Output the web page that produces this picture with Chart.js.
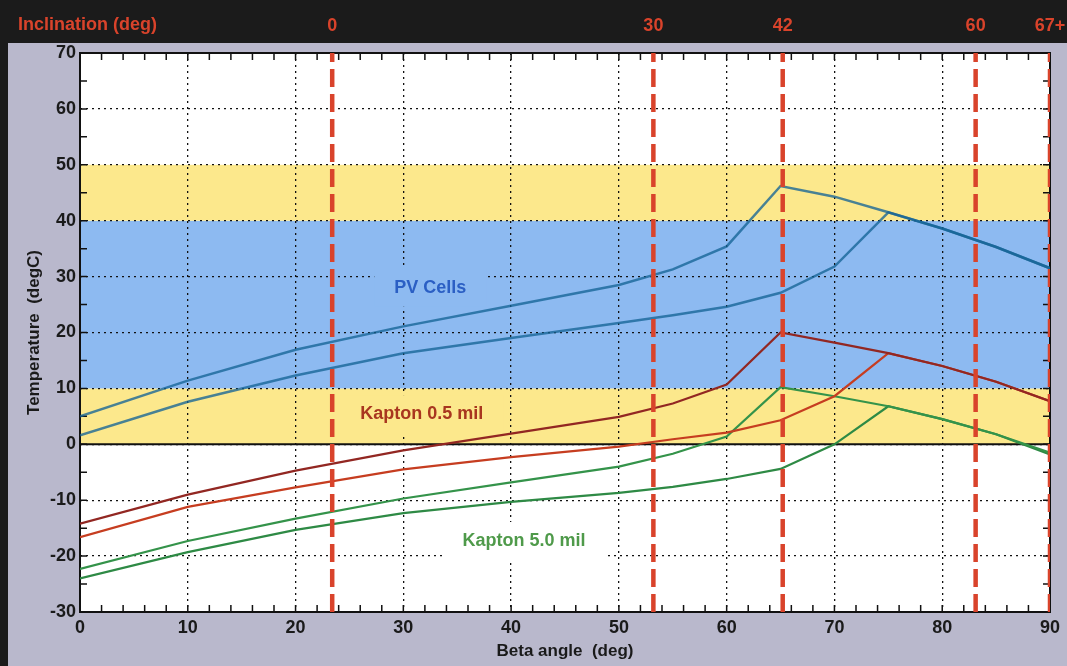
<!DOCTYPE html>
<html>
<head>
<meta charset="utf-8">
<script src="https://cdn.jsdelivr.net/npm/chart.js@4.4.0/dist/chart.umd.min.js"></script>
<style>
    html, body { margin: 0; padding: 0; background: #b9b8cc; }
    #wrap { width: 1067px; height: 666px; }
</style>
</head>
<body>
<div id="wrap"><canvas id="tempChart" width="1067" height="666"></canvas></div>
<script>
// Beta angle samples (deg) and temperatures (degC)
const betaAngles = [0, 10, 20, 30, 40, 50, 55, 60, 65, 70, 75, 80, 85, 90];
const pvHigh     = [5.0, 11.4, 16.9, 21.1, 24.8, 28.5, 31.3, 35.4, 46.2, 44.3, 41.5, 38.6, 35.3, 31.5];
const pvLow      = [1.6, 7.6, 12.3, 16.3, 19.0, 21.7, 23.1, 24.6, 27.1, 31.8, 41.5, 38.6, 35.3, 31.5];
const k05High    = [-14.2, -9.0, -4.7, -1.1, 1.9, 4.9, 7.3, 10.7, 20.0, 18.2, 16.3, 14.0, 11.2, 7.7];
const k05Low     = [-16.6, -11.2, -7.7, -4.5, -2.3, -0.4, 0.9, 2.1, 4.3, 8.6, 16.3, 14.0, 11.2, 7.7];
const k50High    = [-22.3, -17.3, -13.3, -9.7, -6.8, -4.0, -1.7, 1.4, 10.2, 8.6, 6.8, 4.5, 1.8, -1.5];
const k50Low     = [-24.0, -19.3, -15.3, -12.3, -10.3, -8.7, -7.6, -6.2, -4.4, 0.0, 6.8, 4.5, 1.8, -1.8];

// Orbit inclination markers (top axis) and the beta angle they sit at
const incLabels  = ['0', '30', '42', '60', '67+'];
const betaMarks  = [23.4, 53.2, 65.2, 83.1, 90];

// Temperature limit bands (degC)
const bandLow    = [0, 10, 40];
const bandHigh   = [10, 40, 50];
const bandColors = ['#fce88c', '#8dbaf1', '#fce88c'];

// Text labels placed in data coordinates
const noteText   = ['PV Cells', 'Kapton 0.5 mil', 'Kapton 5.0 mil'];
const noteBeta   = [32.5, 31.7, 41.2];
const noteTemp   = [28.0, 5.4, -17.3];

const FONT = '"Liberation Sans", Arial, sans-serif';
const toPoints = ys => ys.map((y, i) => ({ x: betaAngles[i], y }));

const curve = (data, color, width) => ({
    data: toPoints(data),
    borderColor: color,
    borderWidth: width,
    pointRadius: 0,
    tension: 0,
    order: 2
});

const markLines = betaMarks.map(b => ({
    data: [{ x: b, y: -30 }, { x: b, y: 70 }],
    borderColor: '#d9432b',
    borderWidth: 4.5,
    borderDash: [18, 7],
    pointRadius: 0,
    order: 0
}));

const backdrop = {
    id: 'backdrop',
    beforeDraw(chart) {
        const { ctx, width, height, chartArea: a } = chart;
        const y = chart.scales.y;
        ctx.save();
        ctx.fillStyle = '#b9b8cc';
        ctx.fillRect(0, 0, width, height);
        ctx.fillStyle = '#1b1b1b';
        ctx.fillRect(0, 0, width, 43);
        ctx.fillRect(0, 43, 8, height - 43);
        ctx.fillStyle = '#d9432b';
        ctx.font = 'bold 18px ' + FONT;
        ctx.textBaseline = 'middle';
        ctx.fillText('Inclination (deg)', 18, 25);

        ctx.fillStyle = '#ffffff';
        ctx.fillRect(a.left, a.top, a.right - a.left, a.bottom - a.top);
        bandLow.forEach((lo, i) => {
            const top = y.getPixelForValue(bandHigh[i]);
            const bot = y.getPixelForValue(lo);
            ctx.fillStyle = bandColors[i];
            ctx.fillRect(a.left, top, a.right - a.left, bot - top);
        });
        ctx.restore();
    },
    beforeDatasetsDraw(chart) {
        const { ctx, chartArea: a } = chart;
        const x = chart.scales.x, y = chart.scales.y;
        ctx.save();

        // labels sit on a patch of their own background, hiding the grid
        const patch = ['#8dbaf1', '#fce88c', '#ffffff'];
        ctx.font = 'bold 18px ' + FONT;
        ctx.textAlign = 'center';
        ctx.textBaseline = 'middle';
        noteText.forEach((t, i) => {
            const px = x.getPixelForValue(noteBeta[i]);
            const py = y.getPixelForValue(noteTemp[i]);
            const w = ctx.measureText(t).width + 40;
            ctx.fillStyle = patch[i];
            ctx.fillRect(px - w / 2, py - 19, w, 38);
        });
        const inkColors = ['#2b5fc4', '#a8361f', '#4f9a4a'];
        noteText.forEach((t, i) => {
            ctx.fillStyle = inkColors[i];
            ctx.fillText(t, x.getPixelForValue(noteBeta[i]), y.getPixelForValue(noteTemp[i]));
        });

        // zero line
        ctx.strokeStyle = '#111';
        ctx.lineWidth = 2;
        ctx.beginPath();
        ctx.moveTo(a.left, y.getPixelForValue(0));
        ctx.lineTo(a.right, y.getPixelForValue(0));
        ctx.stroke();

        // inner ticks on all four sides
        ctx.lineWidth = 1.5;
        ctx.beginPath();
        for (let b = 0; b <= 90; b += 2) {
            const px = x.getPixelForValue(b);
            ctx.moveTo(px, a.bottom); ctx.lineTo(px, a.bottom - 7);
            ctx.moveTo(px, a.top); ctx.lineTo(px, a.top + 7);
        }
        for (let t = -30; t <= 70; t += 5) {
            const py = y.getPixelForValue(t);
            ctx.moveTo(a.left, py); ctx.lineTo(a.left + 7, py);
            ctx.moveTo(a.right, py); ctx.lineTo(a.right - 7, py);
        }
        ctx.stroke();

        ctx.lineWidth = 2;
        ctx.strokeRect(a.left, a.top, a.right - a.left, a.bottom - a.top);
        ctx.restore();
    }
};

const tickFont = { family: FONT, size: 18, weight: 'bold' };

new Chart(document.getElementById('tempChart'), {
    type: 'line',
    data: {
        datasets: [
            curve(pvHigh, 'rgba(20,100,150,0.78)', 2.5),
            curve(pvLow, 'rgba(20,100,150,0.78)', 2.5),
            curve(k05High, '#922722', 2.2),
            curve(k05Low, '#c63d20', 2.2),
            curve(k50High, '#34934a', 2.2),
            curve(k50Low, '#2e8a45', 2.2),
            ...markLines
        ]
    },
    options: {
        responsive: false,
        animation: false,
        layout: { padding: { right: 17 } },
        plugins: {
            legend: { display: false },
            tooltip: { enabled: false }
        },
        scales: {
            x: {
                type: 'linear',
                min: 0,
                max: 90,
                afterFit: s => { s.height = 54; s.paddingRight = 0; },
                ticks: { stepSize: 10, padding: 5, color: '#1a1a1a', font: tickFont },
                grid: { color: '#111', lineWidth: 1.3, drawTicks: false },
                border: { display: false, dash: [2, 4] },
                title: {
                    display: true,
                    text: 'Beta angle  (deg)',
                    color: '#1a1a1a',
                    font: { family: FONT, size: 17, weight: 'bold' },
                    padding: { top: 0, bottom: 4 }
                }
            },
            xTop: {
                type: 'linear',
                position: 'top',
                min: 0,
                max: 90,
                afterFit: s => { s.height = 53; s.paddingRight = 0; },
                afterBuildTicks: s => { s.ticks = betaMarks.map(v => ({ value: v })); },
                ticks: {
                    autoSkip: false,
                    maxRotation: 0,
                    padding: 8,
                    color: '#d9432b',
                    font: { family: FONT, size: 18, weight: 'bold' },
                    callback: (v, i) => incLabels[i]
                },
                grid: { display: false },
                border: { display: false }
            },
            y: {
                min: -30,
                max: 70,
                afterFit: s => { s.width = 80; },
                ticks: { stepSize: 10, padding: 4, color: '#1a1a1a', font: tickFont },
                grid: { color: '#111', lineWidth: 1.3, drawTicks: false },
                border: { display: false, dash: [2, 4] },
                title: {
                    display: true,
                    text: 'Temperature  (degC)',
                    color: '#1a1a1a',
                    font: { family: FONT, size: 17, weight: 'bold' },
                    padding: { top: 24, bottom: 0 }
                }
            }
        }
    },
    plugins: [backdrop]
});
</script>
</body>
</html>
